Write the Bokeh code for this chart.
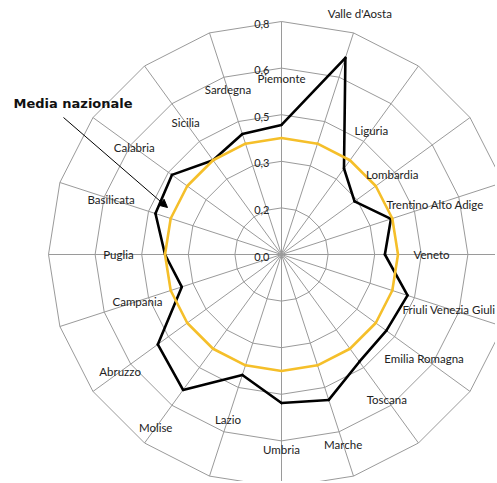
import numpy as np
from bokeh.plotting import figure
from bokeh.models import Arrow, NormalHead, Label, Range1d
from bokeh.core.properties import value
from bokeh.embed import file_html
from bokeh.resources import INLINE

# ---- data ----
regions = ["Piemonte", "Valle d'Aosta", "Liguria", "Lombardia", "Trentino Alto Adige",
           "Veneto", "Friuli Venezia Giulia", "Emilia Romagna", "Toscana", "Marche",
           "Umbria", "Lazio", "Molise", "Abruzzo", "Campania", "Puglia", "Basilicata",
           "Calabria", "Sicilia", "Sardegna"]
region_values = [0.445, 0.71, 0.365, 0.31, 0.395, 0.355, 0.455, 0.445, 0.455, 0.525,
                 0.51, 0.435, 0.575, 0.525, 0.36, 0.40, 0.455, 0.465, 0.40, 0.435]
national_values = [0.40, 0.40, 0.40, 0.40, 0.40, 0.40, 0.40, 0.40, 0.40, 0.40,
                   0.40, 0.40, 0.40, 0.40, 0.40, 0.40, 0.40, 0.40, 0.40, 0.40]
tick_values = [0.0, 0.16, 0.32, 0.48, 0.64, 0.8]
tick_labels = ["0,0", "0,2", "0,3", "0,5", "0,6", "0,8"]
annotation_text = "Media nazionale"

# ---- layout ----
W, H = 495, 481
R_MAX = tick_values[-1]
scale = 233 / R_MAX          # pixels per value unit
cx, cy = 281, 254            # pixel position of the centre within the figure
x0 = (0 - cx) / scale
x1 = (W - cx) / scale
y1 = (cy - 0) / scale
y0 = (cy - H) / scale

FONT = "Lato"
n = len(regions)
theta = np.arange(n) * 2 * np.pi / n
sin_t, cos_t = np.sin(theta), np.cos(theta)
nxt = np.roll(np.arange(n), -1)

p = figure(width=W, height=H, x_range=Range1d(x0, x1), y_range=Range1d(y0, y1),
           output_backend="svg", toolbar_location=None, min_border=0,
           x_axis_location=None, y_axis_location=None)
p.grid.visible = False
p.outline_line_color = None
p.background_fill_color = "white"

GRID = "#9a9a9a"
# rings
for rv_ in tick_values[1:]:
    rx, ry = rv_ * sin_t, rv_ * cos_t
    p.segment(x0=rx, y0=ry, x1=rx[nxt], y1=ry[nxt], line_color=GRID, line_width=1)
# spokes
p.segment(x0=np.zeros(n), y0=np.zeros(n), x1=R_MAX * sin_t, y1=R_MAX * cos_t,
          line_color=GRID, line_width=1)

# region series
rv = np.array(region_values)
bx, by = rv * sin_t, rv * cos_t
p.segment(x0=bx, y0=by, x1=bx[nxt], y1=by[nxt], line_color="black",
          line_width=2.6, line_cap="round")
# national average
nv = np.array(national_values)
yx, yy = nv * sin_t, nv * cos_t
p.segment(x0=yx, y0=yy, x1=yx[nxt], y1=yy[nxt], line_color="#f5bf2a",
          line_width=2.6, line_cap="round")

# region labels: one ring step beyond each value
step = tick_values[1]
lr = rv + step
p.text(x=lr * sin_t, y=lr * cos_t, text=regions, text_align="center",
       text_baseline="middle", text_font=value(FONT), text_font_size="11.5px",
       text_color="#222222")

# tick labels
p.text(x=[-12 / scale] * len(tick_values), y=[t - 2 / scale for t in tick_values],
       text=tick_labels, text_align="right", text_baseline="middle",
       text_font=value(FONT), text_font_size="11px", text_color="#222222")

# annotation
p.add_layout(Label(x=(13 - cx) / scale, y=(cy - 103) / scale, text=annotation_text,
                   text_font="DejaVu Sans", text_font_style="bold", text_font_size="13px",
                   text_baseline="middle", text_align="left", text_color="#111111"))
p.add_layout(Arrow(end=NormalHead(size=8, fill_color="black", line_color="black", line_width=1),
                   x_start=(63 - cx) / scale, y_start=(cy - 117) / scale,
                   x_end=(167 - cx) / scale, y_end=(cy - 207) / scale,
                   line_color="black", line_width=1))

open("out.html", "w").write(file_html(p, INLINE))
